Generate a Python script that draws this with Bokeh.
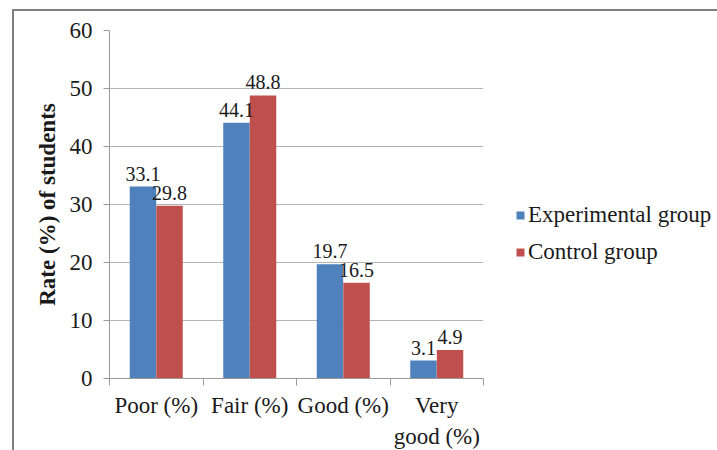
from bokeh.plotting import figure
from bokeh.models import ColumnDataSource, FixedTicker, Legend, LegendItem, Range1d
from bokeh.embed import file_html
from bokeh.resources import INLINE
from bokeh.core.properties import value
import numpy as np

# Data
categories = ["Poor (%)", "Fair (%)", "Good (%)", "Very\ngood (%)"]
experimental = [33.1, 44.1, 19.7, 3.1]
control = [29.8, 48.8, 16.5, 4.9]
series_names = ["Experimental group", "Control group"]
y_ticks = [0, 10, 20, 30, 40, 50, 60]

FONT = "Liberation Serif"
BLUE = "#4F81BD"
RED = "#C0504D"
GRID = "#b4b4b4"
AXIS = "#9a9a9a"
TEXT = "#1a1a1a"

n = len(categories)
centers = np.arange(n) + 0.5
bar_w = 0.283
off = 0.142

src = ColumnDataSource(dict(
    x_exp=centers - off,
    x_ctl=centers + off,
    exp=experimental,
    ctl=control,
    exp_lbl=[f"{v:.1f}" for v in experimental],
    ctl_lbl=[f"{v:.1f}" for v in control],
))

p = figure(
    frame_width=374, frame_height=348,
    x_range=Range1d(0, n), y_range=Range1d(0, y_ticks[-1]),
    output_backend="svg", toolbar_location=None,
    min_border_left=95, min_border_top=19, min_border_right=234, min_border_bottom=80,
)
p.margin = (9, 0, 0, 12)
p.styles = {"border-left": "2px solid #7f7f7f", "border-top": "2px solid #7f7f7f"}
p.outline_line_color = None
p.background_fill_color = "white"
p.border_fill_color = "white"

r_exp = p.vbar(x="x_exp", top="exp", width=bar_w, source=src,
               fill_color=BLUE, line_color=None)
r_ctl = p.vbar(x="x_ctl", top="ctl", width=bar_w, source=src,
               fill_color=RED, line_color=None)

# value labels above each bar
for xcol, ycol, tcol in (("x_exp", "exp", "exp_lbl"), ("x_ctl", "ctl", "ctl_lbl")):
    p.text(x=xcol, y=ycol, text=tcol, source=src,
           text_align="center", text_baseline="alphabetic", y_offset=-13,
           text_font=value(FONT), text_font_size="20px", text_color=TEXT)

# x axis: labels at category centres, tick marks at category boundaries
xa = p.xaxis[0]
xa.ticker = FixedTicker(ticks=list(centers), minor_ticks=list(range(n + 1)))
xa.major_label_overrides = {float(c): lab for c, lab in zip(centers, categories)}
xa.major_tick_in = 0
xa.major_tick_out = 0
xa.minor_tick_in = 0
xa.minor_tick_out = 7
xa.minor_tick_line_color = AXIS
xa.axis_line_color = AXIS
xa.major_label_standoff = 7
xa.major_label_text_font = FONT
xa.major_label_text_font_size = "23px"
xa.major_label_text_line_height = 1.25
xa.major_label_text_color = TEXT

ya = p.yaxis[0]
ya.ticker = FixedTicker(ticks=y_ticks)
ya.major_tick_in = 0
ya.major_tick_out = 6
ya.minor_tick_line_color = None
ya.major_tick_line_color = AXIS
ya.axis_line_color = AXIS
ya.major_label_standoff = 11
ya.major_label_text_font = FONT
ya.major_label_text_font_size = "23px"
ya.major_label_text_color = TEXT
ya.axis_label = "Rate (%) of students"
ya.axis_label_text_font = FONT
ya.axis_label_text_font_style = "bold"
ya.axis_label_text_font_size = "23px"
ya.axis_label_text_color = TEXT
ya.axis_label_standoff = 7

p.xgrid.visible = False
p.ygrid.ticker = FixedTicker(ticks=y_ticks)
p.ygrid.grid_line_color = GRID

legend = Legend(items=[LegendItem(label=series_names[0], renderers=[r_exp]),
                       LegendItem(label=series_names[1], renderers=[r_ctl])],
                location=(32, 113), orientation="vertical")
legend.border_line_color = None
legend.background_fill_alpha = 0
legend.margin = 0
legend.padding = 0
legend.glyph_width = 10
legend.glyph_height = 10
legend.label_standoff = 3
legend.spacing = 11
legend.label_text_font = FONT
legend.label_text_font_size = "23px"
legend.label_text_color = TEXT
p.add_layout(legend, "right")

open("out.html", "w").write(file_html(p, INLINE))
